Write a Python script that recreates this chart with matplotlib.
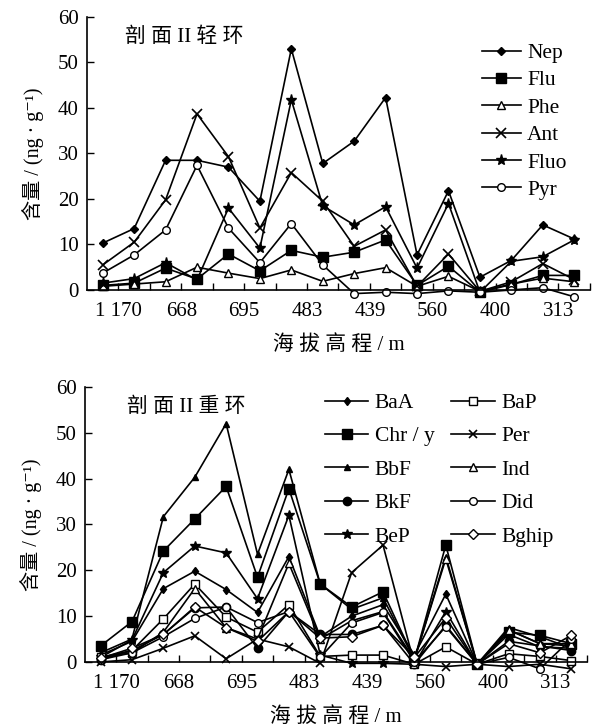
import matplotlib
matplotlib.use("Agg")
import matplotlib.pyplot as plt

plt.rcParams['font.family'] = ['Liberation Serif', 'Noto Sans CJK SC', 'DejaVu Serif']

# etiquetas del eje x (una cada dos muestras)
etiquetas = ["1 170", "668", "695", "483", "439", "560", "400", "313"]
muestras = list(range(16))

# perfil II, anillos ligeros
Nep = [10.3, 13.5, 28.5, 28.5, 27.0, 19.5, 53.0, 27.8, 32.7, 42.3, 7.7, 21.8, 2.8, 6.5, 14.3, 11.2]
Flu = [1.0, 1.5, 4.8, 2.4, 7.9, 4.2, 8.7, 7.2, 8.3, 11.0, 1.0, 5.2, -0.5, 1.2, 3.2, 3.2]
Phe = [0.8, 1.3, 1.8, 5.0, 3.7, 2.5, 4.4, 1.9, 3.6, 4.9, 0.8, 3.0, -0.3, 1.3, 2.6, 1.8]
Ant = [5.5, 10.5, 19.8, 38.7, 29.3, 13.6, 25.8, 19.5, 9.6, 13.2, 0.8, 7.9, -0.3, 1.8, 5.8, 2.3]
Fluo = [1.5, 2.5, 6.0, 2.2, 18.0, 9.2, 41.8, 18.5, 14.3, 18.3, 4.8, 19.0, -0.5, 6.3, 7.3, 11.0]
Pyr = [3.7, 7.7, 13.2, 27.4, 13.6, 6.0, 14.6, 5.5, -0.8, -0.5, -0.8, -0.2, -0.5, 0.0, 0.5, -1.5]

# perfil II, anillos pesados
BaA = [1.5, 4.5, 16.0, 19.8, 15.8, 10.8, 23.0, 5.5, 10.0, 12.5, 1.5, 14.8, -0.5, 7.0, 4.0, 3.5]
Chr = [3.5, 8.8, 24.2, 31.2, 38.3, 18.5, 37.8, 17.0, 12.0, 15.3, 0.5, 25.5, -0.5, 6.5, 5.8, 4.0]
BbF = [2.0, 5.0, 31.7, 40.3, 52.0, 23.5, 42.0, 17.0, 11.5, 14.0, 0.5, 23.0, -0.5, 7.5, 5.5, 3.0]
BkF = [0.5, 2.5, 6.0, 11.8, 12.0, 3.0, 11.0, 6.0, 6.0, 8.0, -0.5, 8.0, -0.5, 4.5, 3.5, 2.5]
BeP = [1.0, 4.8, 19.5, 25.3, 23.8, 13.8, 32.0, 1.5, -0.3, -0.3, -0.5, 11.0, -0.5, 6.0, 3.3, 3.0]
BaP = [1.0, 2.5, 9.4, 17.0, 9.8, 6.5, 12.5, 1.2, 1.5, 1.5, -0.5, 3.3, -0.5, 1.8, 1.2, 0.3]
Per = [0.0, 0.5, 3.0, 5.7, 0.7, 5.0, 3.3, -0.3, 19.5, 25.5, -0.5, -1.0, -0.5, -1.0, -0.5, -1.5]
Ind = [1.0, 2.0, 6.5, 16.0, 7.5, 5.0, 21.5, 5.0, 9.0, 11.0, 0.5, 22.5, -0.5, 7.0, 4.0, 4.0]
Did = [0.5, 2.0, 5.5, 9.5, 12.0, 8.6, 11.0, 1.0, 8.5, 10.8, 0.0, 7.7, -0.5, 1.0, -1.5, 5.0]
Bghip = [0.8, 3.0, 6.0, 12.0, 7.5, 4.5, 11.0, 5.2, 5.5, 8.0, 1.0, 9.6, -0.5, 4.0, 2.0, 5.8]

ligeros = [
    ("Nep", Nep, dict(marker="D", ms=4.5, mfc="black")),
    ("Flu", Flu, dict(marker="s", ms=6.5, mfc="black")),
    ("Phe", Phe, dict(marker="^", ms=5.5, mfc="white")),
    ("Ant", Ant, dict(marker="x", ms=6.5, mew=1.2)),
    ("Fluo", Fluo, dict(marker="*", ms=8, mfc="black")),
    ("Pyr", Pyr, dict(marker="o", ms=5.5, mfc="white")),
]
pesados = [
    ("BaA", BaA, dict(marker="d", ms=4.5, mfc="black")),
    ("Chr / y", Chr, dict(marker="s", ms=6.5, mfc="black")),
    ("BbF", BbF, dict(marker="^", ms=4.5, mfc="black")),
    ("BkF", BkF, dict(marker="o", ms=6, mfc="black")),
    ("BeP", BeP, dict(marker="*", ms=7, mfc="black")),
    ("BaP", BaP, dict(marker="s", ms=6, mfc="white")),
    ("Per", Per, dict(marker="x", ms=6, mew=1.2)),
    ("Ind", Ind, dict(marker="^", ms=6, mfc="white")),
    ("Did", Did, dict(marker="o", ms=5.5, mfc="white")),
    ("Bghip", Bghip, dict(marker="D", ms=5, mfc="white")),
]

fig = plt.figure(figsize=(5.98, 7.26), dpi=100)
ax1 = fig.add_axes([0.1455, 0.6006, 0.841, 0.376])
ax2 = fig.add_axes([0.142, 0.0882, 0.8396, 0.3788])


def preparar(ax, titulo, xt):
    ax.set_xlim(-0.5, 15.5)
    ax.set_ylim(0, 60)
    ax.spines["top"].set_visible(False)
    ax.spines["right"].set_visible(False)
    for s in ("left", "bottom"):
        ax.spines[s].set_linewidth(1.2)
    limites = [k + 0.5 for k in range(16)]
    textos = []
    for k in range(16):
        textos.append(etiquetas[k // 2] if k % 2 == 0 and k < 15 else "")
    ax.set_xticks(limites, textos)
    ax.set_yticks(range(0, 61, 10))
    ax.tick_params(direction="in", length=5, width=1, labelsize=15)
    ax.tick_params(axis="x", pad=9)
    ax.tick_params(axis="y", pad=6)
    ax.set_xlabel("海 拔 高 程 / m", fontsize=15, labelpad=10)
    ax.set_ylabel("含量 / (ng · g⁻¹)", fontsize=14.5, labelpad=10)
    ax.text(xt, 0.927, titulo, transform=ax.transAxes, fontsize=15,
            va="center")


preparar(ax1, "剖 面 II 轻 环", 0.075)
preparar(ax2, "剖 面 II 重 环", 0.084)

for nombre, valores, estilo in ligeros:
    ax1.plot(muestras, valores, color="black", lw=1.2, label=nombre,
             mec="black", clip_on=False, **estilo)
for nombre, valores, estilo in pesados:
    ax2.plot(muestras, valores, color="black", lw=1.2, label=nombre,
             mec="black", clip_on=False, **estilo)

ax1.legend(loc="upper left", bbox_to_anchor=(482 / 598, 1 - 43 / 726),
           bbox_transform=fig.transFigure, frameon=False, fontsize=15.5,
           handlelength=1.8, handletextpad=0.3, labelspacing=0.34,
           borderpad=0, borderaxespad=0)
ax2.legend(loc="upper left", bbox_to_anchor=(325 / 598, 1 - 393 / 726),
           bbox_transform=fig.transFigure, frameon=False, fontsize=15.5,
           ncol=2, handlelength=2.0, handletextpad=0.3, labelspacing=0.62,
           columnspacing=0.8, borderpad=0, borderaxespad=0)

fig.savefig("out.png", dpi=100)
